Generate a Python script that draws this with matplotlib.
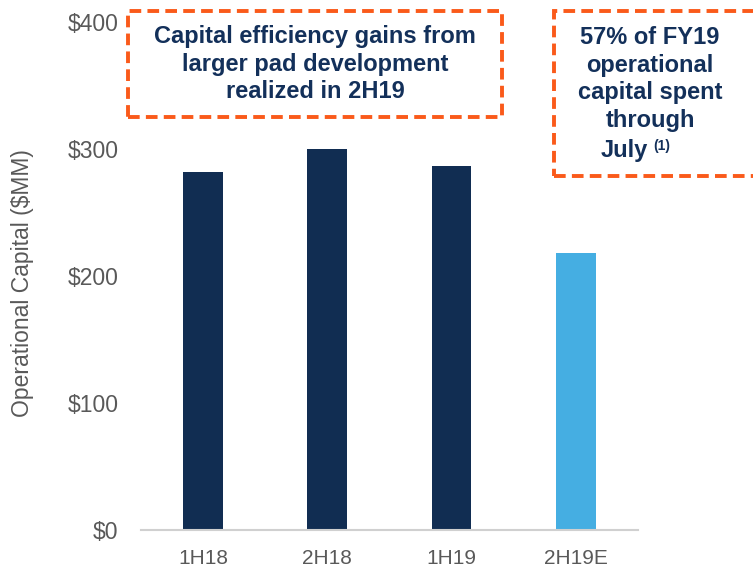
import matplotlib.pyplot as plt
from matplotlib.patches import Rectangle

plt.rcParams['font.family'] = ['Liberation Sans', 'DejaVu Sans']

# data
periods = ['1H18', '2H18', '1H19', '2H19E']
capital = [282, 300, 287, 218]
colors = ['#112d52', '#112d52', '#112d52', '#45aee2']
yticks = [0, 100, 200, 300, 400]

navy = '#13305a'
orange = '#fa5a1a'
grey = '#595959'

W, H = 753, 569
fig = plt.figure(figsize=(W / 100, H / 100), dpi=100)
ax = fig.add_axes([0.187, 0.0685, 0.66, 0.8925])

ax.bar(range(len(periods)), capital, width=0.32, color=colors)
ax.set_xlim(-0.5, len(periods) - 0.5)
ax.set_ylim(0, 400)
ax.set_yticks(yticks)
ax.set_yticklabels(['$' + str(v) for v in yticks])
ax.set_xticks(range(len(periods)))
ax.set_xticklabels(periods)
ax.tick_params(length=0, labelcolor=grey)
ax.tick_params(axis='x', labelsize=15, pad=14)
ax.tick_params(axis='y', labelsize=16.5, pad=16)
for s in ['top', 'right', 'left']:
    ax.spines[s].set_visible(False)
ax.spines['bottom'].set_color('#d0d0d0')
ax.spines['bottom'].set_linewidth(1.5)
fig.text(23 / W, 1 - 283 / H, 'Operational Capital ($MM)', rotation=90,
         ha='center', va='center', fontsize=16.5, color=grey)

# callout boxes (pixel coords converted to figure fractions)
def box(x0, y0, x1, y1):
    r = Rectangle((x0 / W, 1 - y1 / H), (x1 - x0) / W, (y1 - y0) / H,
                  transform=fig.transFigure, fill=False, edgecolor=orange,
                  linewidth=2.8, linestyle=(0, (3, 1.6)), clip_on=False)
    fig.patches.append(r)

box(128, 11, 502, 117)
fig.text(315 / W, 1 - 64 / H,
         'Capital efficiency gains from\nlarger pad development\nrealized in 2H19',
         ha='center', va='center', fontsize=17, fontweight='bold',
         color=navy, linespacing=1.25)

box(554, 11, 760, 176)
fig.text(650 / W, 1 - 79 / H,
         '57% of FY19\noperational\ncapital spent\nthrough',
         ha='center', va='center', fontsize=17, fontweight='bold',
         color=navy, linespacing=1.27)
fig.text(648 / W, 1 - 151 / H, 'July', ha='right', va='center',
         fontsize=17, fontweight='bold', color=navy)
fig.text(653 / W, 1 - 146 / H, '(1)', ha='left', va='center',
         fontsize=10, fontweight='bold', color=navy)

fig.savefig('out.png', dpi=100)
